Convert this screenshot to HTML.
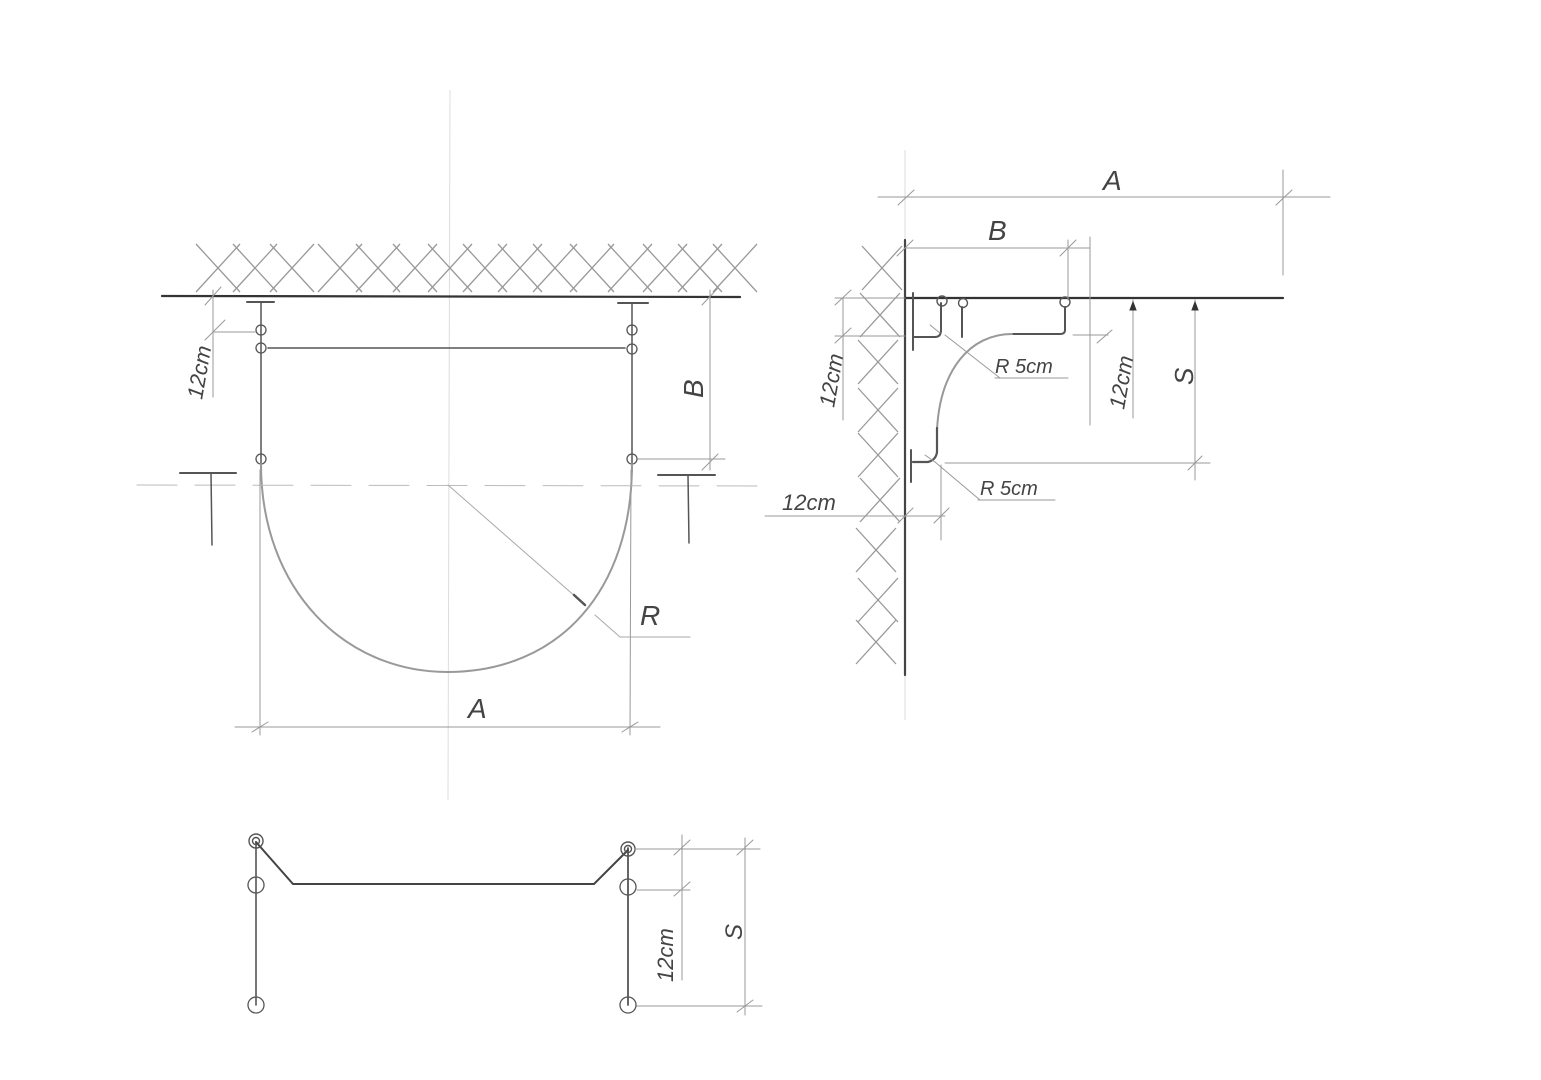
<!DOCTYPE html>
<html><head><meta charset="utf-8"><style>
html,body{margin:0;padding:0;background:#fff;}
svg{display:block}
text{font-family:"Liberation Sans",sans-serif;font-style:italic;fill:#444;}
</style></head><body>
<svg width="1541" height="1080" viewBox="0 0 1541 1080" xmlns="http://www.w3.org/2000/svg">
<defs>
<g id="x"><line x1="-22" y1="-24" x2="22" y2="24"/><line x1="-22" y1="24" x2="22" y2="-24"/></g>
<g id="w"><line x1="-20" y1="-22" x2="20" y2="22"/><line x1="-20" y1="22" x2="20" y2="-22"/></g>
</defs>
<!-- faint construction lines -->
<g stroke="#ddd" stroke-width="1" fill="none">
<line x1="450" y1="90" x2="448" y2="800"/>
<line x1="905" y1="150" x2="905" y2="720"/>
</g>
<!-- top hatching -->
<g stroke="#999" stroke-width="1.3" fill="none">
<use href="#x" x="218" y="268"/><use href="#x" x="255" y="268"/><use href="#x" x="292" y="268"/>
<use href="#x" x="340" y="268"/><use href="#x" x="378" y="268"/><use href="#x" x="415" y="268"/>
<use href="#x" x="450" y="268"/><use href="#x" x="485" y="268"/><use href="#x" x="520" y="268"/>
<use href="#x" x="555" y="268"/><use href="#x" x="592" y="268"/><use href="#x" x="630" y="268"/>
<use href="#x" x="665" y="268"/><use href="#x" x="700" y="268"/><use href="#x" x="735" y="268"/>
</g>
<!-- wall hatching -->
<g stroke="#999" stroke-width="1.3" fill="none">
<use href="#w" x="882" y="268"/><use href="#w" x="880" y="315"/><use href="#w" x="878" y="362"/>
<use href="#w" x="878" y="410"/><use href="#w" x="878" y="455"/><use href="#w" x="880" y="500"/>
<use href="#w" x="876" y="550"/><use href="#w" x="878" y="600"/><use href="#w" x="876" y="642"/>
</g>
<g stroke="#555" fill="none" stroke-linecap="round">
<!-- LEFT FIGURE -->
<line x1="162" y1="296" x2="740" y2="297" stroke-width="2.2" stroke="#333"/>
<line x1="247" y1="302" x2="274" y2="302" stroke-width="2"/>
<line x1="618" y1="303" x2="648" y2="303" stroke-width="2"/>
<line x1="261" y1="302" x2="261" y2="472" stroke-width="1.5"/>
<line x1="632" y1="303" x2="632" y2="472" stroke-width="1.5"/>
<line x1="268" y1="348" x2="625" y2="348" stroke-width="1.6"/>
<circle cx="261" cy="330" r="5" stroke-width="1.3"/><circle cx="261" cy="348" r="5" stroke-width="1.3"/>
<circle cx="632" cy="330" r="5" stroke-width="1.3"/><circle cx="632" cy="349" r="5" stroke-width="1.3"/>
<circle cx="261" cy="459" r="5" stroke-width="1.3"/><circle cx="632" cy="459" r="5" stroke-width="1.3"/>
<path d="M261,464 C261,590 345,672 447,672 C560,672 632,590 632,464" stroke="#999" stroke-width="2"/>
<!-- section line -->
<line x1="137" y1="485" x2="760" y2="486" stroke="#bbb" stroke-width="1" stroke-dasharray="40,18"/>
<line x1="180" y1="473" x2="236" y2="473" stroke-width="2"/>
<line x1="211" y1="473" x2="212" y2="545" stroke-width="1.5"/>
<line x1="658" y1="475" x2="715" y2="475" stroke-width="2"/>
<line x1="688" y1="475" x2="689" y2="543" stroke-width="1.5"/>
<!-- R -->
<line x1="448" y1="485" x2="585" y2="605" stroke="#aaa" stroke-width="1"/>
<line x1="574" y1="595" x2="585" y2="605" stroke-width="2.5"/>
<line x1="595" y1="615" x2="620" y2="637" stroke="#aaa" stroke-width="1"/>
<line x1="620" y1="637" x2="690" y2="637" stroke="#aaa" stroke-width="1"/>
<!-- A dim -->
<g stroke="#999" stroke-width="1">
<line x1="260" y1="470" x2="260" y2="735"/>
<line x1="631" y1="470" x2="630" y2="735"/>
<line x1="235" y1="727" x2="660" y2="727"/>
<line x1="252" y1="732" x2="268" y2="722"/><line x1="622" y1="732" x2="638" y2="722"/>
<!-- 12cm dim -->
<line x1="213" y1="290" x2="213" y2="397"/>
<line x1="205" y1="305" x2="221" y2="287"/><line x1="205" y1="340" x2="225" y2="320"/>
<line x1="213" y1="332" x2="255" y2="332"/>
<!-- B dim -->
<line x1="710" y1="290" x2="710" y2="470"/>
<line x1="702" y1="305" x2="718" y2="288"/><line x1="702" y1="470" x2="718" y2="454"/>
<line x1="638" y1="459" x2="725" y2="459"/>
</g>
<!-- BOTTOM FIGURE -->
<line x1="256" y1="842" x2="256" y2="1005" stroke-width="1.6"/>
<line x1="628" y1="848" x2="628" y2="1005" stroke-width="1.8"/>
<polyline points="256,842 293,884 594,884 628,850" stroke-width="2" stroke="#444"/>
<circle cx="256" cy="841" r="7" stroke-width="1.4"/><circle cx="256" cy="841" r="3.5" stroke-width="1.4"/>
<circle cx="628" cy="849" r="7" stroke-width="1.4"/><circle cx="628" cy="849" r="3.5" stroke-width="1.4"/>
<circle cx="256" cy="885" r="8" stroke-width="1.3"/><circle cx="628" cy="887" r="8" stroke-width="1.3"/>
<circle cx="256" cy="1005" r="8" stroke-width="1.3"/><circle cx="628" cy="1005" r="8" stroke-width="1.3"/>
<g stroke="#999" stroke-width="1">
<line x1="635" y1="849" x2="760" y2="849"/>
<line x1="637" y1="890" x2="690" y2="890"/>
<line x1="637" y1="1006" x2="762" y2="1006"/>
<line x1="682" y1="835" x2="682" y2="980"/>
<line x1="674" y1="855" x2="690" y2="840"/><line x1="674" y1="896" x2="690" y2="882"/>
<line x1="745" y1="838" x2="745" y2="1015"/>
<line x1="737" y1="855" x2="753" y2="840"/><line x1="737" y1="1012" x2="753" y2="1000"/>
</g>
<!-- RIGHT FIGURE -->
<line x1="905" y1="240" x2="905" y2="675" stroke-width="2.2" stroke="#444"/>
<line x1="905" y1="298" x2="1283" y2="298" stroke-width="2.2" stroke="#333"/>
<line x1="913" y1="293" x2="913" y2="350" stroke-width="2"/>
<line x1="913" y1="337" x2="935" y2="337" stroke-width="2"/>
<path d="M941,303 L941,330 Q941,337 935,337" stroke-width="2"/>
<line x1="962" y1="307" x2="962" y2="337" stroke-width="2"/>
<circle cx="942" cy="301" r="5" stroke-width="1.4"/><circle cx="963" cy="303" r="4.5" stroke-width="1.4"/>
<circle cx="1065" cy="302" r="5" stroke-width="1.4"/>
<path d="M1065,307 L1065,330 Q1065,334 1060,334 L1012,334" stroke-width="2"/>
<path d="M1012,334 C970,334 940,370 937,430" stroke="#999" stroke-width="2"/>
<path d="M937,428 L937,452 Q936,460 928,462 L913,462" stroke-width="2.2"/>
<line x1="911" y1="450" x2="911" y2="482" stroke-width="2"/>
<g stroke="#999" stroke-width="1">
<line x1="930" y1="325" x2="940" y2="333"/>
<line x1="925" y1="455" x2="935" y2="462"/>
<line x1="945" y1="335" x2="1000" y2="378"/><line x1="995" y1="378" x2="1068" y2="378"/>
<line x1="935" y1="462" x2="980" y2="500"/><line x1="978" y1="500" x2="1055" y2="500"/>
<!-- A dim -->
<line x1="878" y1="197" x2="1330" y2="197"/>
<line x1="898" y1="205" x2="914" y2="190"/><line x1="1276" y1="205" x2="1292" y2="190"/>
<line x1="1283" y1="170" x2="1283" y2="275"/>
<!-- B dim -->
<line x1="905" y1="248" x2="1058" y2="248"/>
<line x1="897" y1="256" x2="913" y2="240"/><line x1="1060" y1="256" x2="1076" y2="240"/>
<line x1="1068" y1="240" x2="1068" y2="300"/>
<line x1="1058" y1="248" x2="1090" y2="248"/>
<line x1="1090" y1="237" x2="1090" y2="425"/>
<!-- 12cm right -->
<line x1="1073" y1="335" x2="1108" y2="335"/>
<line x1="1097" y1="343" x2="1112" y2="330"/>
<line x1="1133" y1="300" x2="1133" y2="418"/>
<line x1="1195" y1="300" x2="1195" y2="480"/>
<line x1="945" y1="463" x2="1210" y2="463"/>
<line x1="1188" y1="470" x2="1202" y2="456"/>
<!-- 12cm left -->
<line x1="835" y1="298" x2="905" y2="298"/>
<line x1="835" y1="336" x2="905" y2="336"/>
<line x1="843" y1="298" x2="843" y2="420"/>
<line x1="835" y1="305" x2="851" y2="290"/><line x1="835" y1="343" x2="851" y2="328"/>
<!-- 12cm bottom -->
<line x1="765" y1="516" x2="945" y2="516"/>
<line x1="941" y1="465" x2="941" y2="540"/>
<line x1="898" y1="523" x2="913" y2="508"/><line x1="934" y1="523" x2="949" y2="508"/>
</g>
<g stroke="#333" fill="#333"><path d="M1133,302 l-3,8 h6 z"/><path d="M1195,302 l-3,8 h6 z"/></g>
</g>
<!-- labels -->
<text x="468" y="718" font-size="28">A</text>
<text x="640" y="625" font-size="28">R</text>
<text transform="translate(703,398) rotate(-90)" font-size="28">B</text>
<text transform="translate(202,400) rotate(-80)" font-size="22">12cm</text>
<text transform="translate(742,940) rotate(-90)" font-size="24">S</text>
<text transform="translate(673,982) rotate(-90)" font-size="22">12cm</text>
<text x="1103" y="190" font-size="28">A</text>
<text x="988" y="240" font-size="28">B</text>
<text x="995" y="373" font-size="20">R 5cm</text>
<text x="980" y="495" font-size="20">R 5cm</text>
<text x="782" y="510" font-size="22">12cm</text>
<text transform="translate(834,408) rotate(-80)" font-size="22">12cm</text>
<text transform="translate(1124,410) rotate(-80)" font-size="22">12cm</text>
<text transform="translate(1193,385) rotate(-90)" font-size="26">S</text>
</svg>
</body></html>
